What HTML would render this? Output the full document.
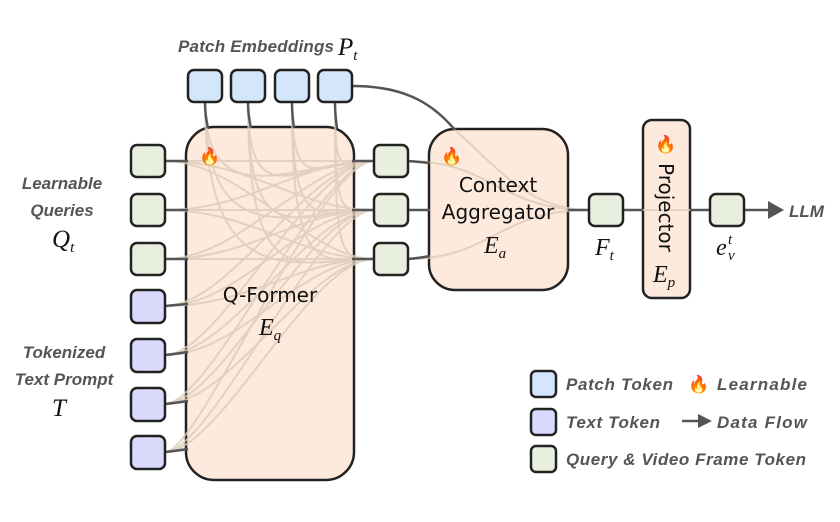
<!DOCTYPE html>
<html><head><meta charset="utf-8"><style>
body{margin:0;background:#fff}
svg{display:block}
.lb{font-family:"Liberation Sans",sans-serif;font-weight:bold;font-style:italic;fill:#555;font-size:17px}
.m{font-family:"Liberation Serif",serif;font-style:italic;fill:#111}
.t{font-family:"DejaVu Sans","Liberation Sans",sans-serif;fill:#111}
</style></head><body>
<svg width="840" height="522" viewBox="0 0 840 522" xmlns="http://www.w3.org/2000/svg">
<rect x="186" y="127" width="168" height="353" rx="28" fill="#fdeadc" stroke="#222" stroke-width="2.5"/>
<rect x="429" y="129" width="139" height="161" rx="26" fill="#fdeadc" stroke="#222" stroke-width="2.5"/>
<rect x="643" y="120" width="47" height="178" rx="9" fill="#fdeadc" stroke="#222" stroke-width="2.5"/>
<g fill="none" stroke="#dccbb8" stroke-width="2" opacity="0.8">
<path d="M165 161C270 161 270 161 374 161"/><path d="M165 161C250 161 300 210 374 210"/><path d="M165 161C240 161 310 259 374 259"/>
<path d="M165 210C250 210 300 161 374 161"/><path d="M165 210C270 210 270 210 374 210"/><path d="M165 210C250 210 300 259 374 259"/>
<path d="M165 259C240 259 310 161 374 161"/><path d="M165 259C250 259 300 210 374 210"/><path d="M165 259C270 259 270 259 374 259"/>
<path d="M165 306C230 306 310 161 374 161"/><path d="M165 306C240 306 300 210 374 210"/><path d="M165 306C250 306 300 259 374 259"/>
<path d="M165 355C220 355 310 161 374 161"/><path d="M165 355C230 355 310 210 374 210"/><path d="M165 355C240 355 300 259 374 259"/>
<path d="M165 404C210 404 320 161 374 161"/><path d="M165 404C220 404 310 210 374 210"/><path d="M165 404C230 404 310 259 374 259"/>
<path d="M165 452C200 452 320 161 374 161"/><path d="M165 452C210 452 320 210 374 210"/><path d="M165 452C220 452 310 259 374 259"/>
<path d="M205 102C205 220 300 161 374 161"/><path d="M205 102C205 260 300 210 374 210"/><path d="M205 102C205 300 300 259 374 259"/>
<path d="M248 102C248 220 300 161 374 161"/><path d="M248 102C248 260 300 210 374 210"/><path d="M248 102C248 300 300 259 374 259"/>
<path d="M292 102C292 200 320 161 374 161"/><path d="M292 102C292 240 320 210 374 210"/><path d="M292 102C292 280 320 259 374 259"/>
<path d="M335 102C335 180 340 161 374 161"/><path d="M335 102C335 220 340 210 374 210"/><path d="M335 102C335 260 340 259 374 259"/>
<path d="M408 161C490 161 500 210 589 210"/><path d="M408 259C490 259 500 210 589 210"/><path d="M455 130C500 170 530 210 589 210"/>
<path d="M623 210L710 210"/>
</g>
<g fill="none" stroke="#555" stroke-width="2.5">
<path d="M165 161H188"/><path d="M165 210H188"/><path d="M165 259H188"/><path d="M165 306Q175 305 188 304"/><path d="M165 355Q175 354 188 352"/><path d="M165 404Q175 403 188 401"/><path d="M165 452Q175 451 188 449"/>
<path d="M205 102Q205 115 208 128"/><path d="M248 102Q248 115 251 128"/><path d="M292 102Q292 115 294 128"/><path d="M335 102Q335 115 337 128"/>
<path d="M352 161H374"/><path d="M352 210H374"/><path d="M352 259H374"/>
<path d="M408 161Q420 162 430 163"/><path d="M408 210H430"/><path d="M408 259Q420 258 430 256"/>
<path d="M352 86C400 86 430 100 455 130"/>
<path d="M568 210H589"/><path d="M623 210H643"/><path d="M690 210H710"/>
<path d="M744 210H770"/>
</g>
<path d="M768 201L784 210L768 219z" fill="#555"/>
<g stroke="#222" stroke-width="2.5">
<rect x="188" y="70" width="34" height="32" rx="6" fill="#d3e6fb"/>
<rect x="231" y="70" width="34" height="32" rx="6" fill="#d3e6fb"/>
<rect x="275" y="70" width="34" height="32" rx="6" fill="#d3e6fb"/>
<rect x="318" y="70" width="34" height="32" rx="6" fill="#d3e6fb"/>
<rect x="131" y="145" width="34" height="32" rx="6" fill="#e8efdf"/>
<rect x="131" y="194" width="34" height="32" rx="6" fill="#e8efdf"/>
<rect x="131" y="243" width="34" height="32" rx="6" fill="#e8efdf"/>
<rect x="131" y="290" width="34" height="33" rx="6" fill="#d9d9fb"/>
<rect x="131" y="339" width="34" height="33" rx="6" fill="#d9d9fb"/>
<rect x="131" y="388" width="34" height="33" rx="6" fill="#d9d9fb"/>
<rect x="131" y="436" width="34" height="33" rx="6" fill="#d9d9fb"/>
<rect x="374" y="145" width="34" height="32" rx="6" fill="#e8efdf"/>
<rect x="374" y="194" width="34" height="32" rx="6" fill="#e8efdf"/>
<rect x="374" y="243" width="34" height="32" rx="6" fill="#e8efdf"/>
<rect x="589" y="194" width="34" height="32" rx="6" fill="#e8efdf"/>
<rect x="710" y="194" width="34" height="32" rx="6" fill="#e8efdf"/>
<rect x="531" y="371" width="25" height="26" rx="5" fill="#d3e6fb"/>
<rect x="531" y="409" width="25" height="26" rx="5" fill="#d9d9fb"/>
<rect x="531" y="446" width="25" height="26" rx="5" fill="#e8efdf"/>
</g>
<text class="lb" x="178" y="52" font-size="18" textLength="156">Patch Embeddings</text><text class="m" x="338" y="55" font-size="25">P<tspan font-size="15" dy="5">t</tspan></text>
<text class="lb" x="62" y="189" text-anchor="middle">Learnable</text>
<text class="lb" x="62" y="216" text-anchor="middle">Queries</text>
<text class="m" x="52" y="247" font-size="25">Q<tspan font-size="15" dy="5">t</tspan></text>
<text class="lb" x="64" y="358" text-anchor="middle">Tokenized</text>
<text class="lb" x="64" y="385" text-anchor="middle">Text Prompt</text>
<text class="m" x="52" y="416" font-size="25">T</text>
<text class="t" x="270" y="302" text-anchor="middle" font-size="20">Q-Former</text>
<text class="m" x="259" y="335" font-size="24">E<tspan font-size="15" dy="5">q</tspan></text>
<text class="t" x="498" y="192" text-anchor="middle" font-size="20">Context</text>
<text class="t" x="498" y="219" text-anchor="middle" font-size="20">Aggregator</text>
<text class="m" x="484" y="253" font-size="24">E<tspan font-size="15" dy="5">a</tspan></text>
<text class="m" x="595" y="255" font-size="24">F<tspan font-size="15" dy="5">t</tspan></text>
<text class="t" x="0" y="0" font-size="20" transform="translate(659,163) rotate(90)">Projector</text>
<text class="m" x="653" y="282" font-size="24">E<tspan font-size="15" dy="5">p</tspan></text>
<text class="m" x="716" y="255" font-size="24">e</text><text class="m" x="728" y="244" font-size="15">t</text><text class="m" x="728" y="260" font-size="15">v</text>
<text class="lb" x="789" y="217">LLM</text>
<text font-size="17" x="199" y="162">🔥</text>
<text font-size="17" x="441" y="162">🔥</text>
<text font-size="17" x="655" y="150">🔥</text>
<text class="lb" x="566" y="390" textLength="107">Patch Token</text>
<text font-size="17" x="688" y="390">🔥</text>
<text class="lb" x="717" y="390" textLength="90">Learnable</text>
<text class="lb" x="566" y="428" textLength="94">Text Token</text>
<path d="M682 421H700" stroke="#555" stroke-width="2.5"/><path d="M698 414L712 421L698 428z" fill="#555"/>
<text class="lb" x="717" y="428" textLength="90">Data Flow</text>
<text class="lb" x="566" y="465" textLength="240">Query &amp; Video Frame Token</text>
</svg>
</body></html>
